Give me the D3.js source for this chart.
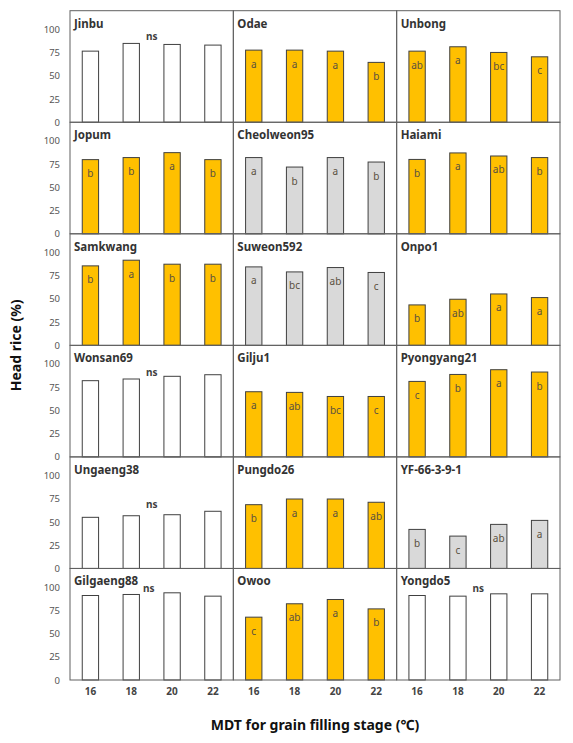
<!DOCTYPE html>
<html><head><meta charset="utf-8">
<script src="https://cdn.jsdelivr.net/npm/d3@7"></script>
<style>body{margin:0;background:#fff}svg{display:block}</style>
</head><body>
<svg id="c" width="573" height="743"></svg>
<script>
const cultivars = ["Jinbu","Odae","Unbong","Jopum","Cheolweon95","Haiami","Samkwang","Suweon592","Onpo1",
  "Wonsan69","Gilju1","Pyongyang21","Ungaeng38","Pungdo26","YF-66-3-9-1","Gilgaeng88","Owoo","Yongdo5"];
const temps = [16, 18, 20, 22];
const headRice = [
  [76.5, 84.8, 83.7, 83.0], [77.6, 77.6, 76.5, 64.4], [76.5, 81.2, 75.1, 70.4],
  [79.8, 82.0, 87.3, 79.8], [82.0, 71.8, 82.0, 77.2], [80.0, 87.0, 83.7, 82.0],
  [85.5, 91.6, 87.3, 87.3], [84.4, 79.0, 83.7, 78.4], [43.5, 49.6, 55.3, 51.4],
  [82.0, 83.8, 86.7, 88.4], [70.1, 69.4, 65.0, 65.0], [81.2, 88.7, 93.8, 91.3],
  [55.0, 56.7, 57.8, 61.5], [68.6, 74.7, 74.7, 71.2], [42.0, 34.8, 47.4, 51.7],
  [90.9, 92.0, 93.8, 90.2], [67.6, 82.0, 86.6, 76.5], [90.9, 90.2, 92.7, 92.7]
];
const letters = [
  null, ["a","a","a","b"], ["ab","a","bc","c"],
  ["b","b","a","b"], ["a","b","a","b"], ["b","a","ab","b"],
  ["b","a","b","b"], ["a","bc","ab","c"], ["b","ab","a","a"],
  null, ["a","ab","bc","c"], ["c","b","a","b"],
  null, ["b","a","a","ab"], ["b","c","ab","a"],
  null, ["c","ab","a","b"], null
];
const groups = ["ns","sig","sig","sig","gray","sig","sig","gray","sig","ns","sig","sig","ns","sig","gray","ns","sig","ns"];
const nsLevel = [92.7, null, null, null, null, null, null, null, null, 90.6, null, null, 69.3, null, null, 98.9, null, 98.9];
const yTicks = [0, 25, 50, 75, 100];

const fills = {ns: "#ffffff", sig: "#ffc000", gray: "#d9d9d9"};
const svg = d3.select("#c");
const gLeft = 70, gTop = 10.7, gridW = 490, gridH = 669.3;
const nCols = 3, nRows = 6;
const pw = gridW / nCols, ph = gridH / nRows;
const font = "'Noto Sans', 'Open Sans', sans-serif";

cultivars.forEach((name, i) => {
  const col = i % nCols, row = Math.floor(i / nCols);
  const x0 = gLeft + col * pw, y0 = gTop + row * ph;
  const g = svg.append("g");
  const x = d3.scaleBand().domain(temps).range([x0, x0 + pw]).paddingInner(0.6).paddingOuter(0.3);
  const y = d3.scaleLinear().domain([0, 120]).range([y0 + ph, y0]);
  const vals = headRice[i];

  g.selectAll("rect.bar").data(vals).join("rect")
    .attr("x", (d, k) => x(temps[k]))
    .attr("y", d => y(d))
    .attr("width", x.bandwidth())
    .attr("height", d => y(0) - y(d))
    .attr("fill", fills[groups[i]])
    .attr("stroke", "#404040").attr("stroke-width", 1);

  if (letters[i]) {
    g.selectAll("text.lt").data(vals).join("text")
      .attr("x", (d, k) => x(temps[k]) + x.bandwidth() / 2)
      .attr("y", d => y(d) + 17.5)
      .attr("text-anchor", "middle")
      .attr("font-family", font).attr("font-size", 10)
      .attr("fill", "#5a5040")
      .text((d, k) => letters[i][k]);
  }
  if (nsLevel[i] != null) {
    g.append("text").attr("x", x0 + pw / 2 - (col === 0 && row === 5 ? 3 : 0)).attr("y", y(nsLevel[i]) + 3.5)
      .attr("text-anchor", "middle").attr("font-family", font).attr("font-size", 10)
      .attr("font-weight", "bold").attr("fill", "#404040").text("ns");
  }

  g.append("rect").attr("x", x0).attr("y", y0).attr("width", pw).attr("height", ph)
    .attr("fill", "none").attr("stroke", "#606060").attr("stroke-width", 1);

  g.append("text").attr("x", x0 + 4).attr("y", y0 + 17)
    .attr("font-family", font).attr("font-size", 11.5).attr("font-weight", "bold")
    .attr("fill", "#333").text(name);

  if (col === 0) {
    const ax = g.append("g").attr("transform", `translate(${x0},0)`)
      .call(d3.axisLeft(y).tickValues(yTicks).tickSize(0).tickPadding(10));
    ax.select(".domain").remove();
    ax.selectAll("text").attr("font-family", font).attr("font-size", 9.5).attr("fill", "#555");
  }
  if (row === nRows - 1) {
    const ax = g.append("g").attr("transform", `translate(0,${y0 + ph})`)
      .call(d3.axisBottom(x).tickSize(0).tickPadding(8));
    ax.select(".domain").remove();
    ax.selectAll("text").attr("font-family", font).attr("font-size", 10).attr("font-weight", "bold").attr("fill", "#444");
  }
});

svg.append("text").attr("transform", `translate(21,${gTop + gridH / 2}) rotate(-90)`)
  .attr("text-anchor", "middle").attr("font-family", font).attr("font-size", 14)
  .attr("font-weight", "bold").attr("fill", "#111").text("Head rice (%)");
svg.append("text").attr("x", gLeft + gridW / 2).attr("y", 730)
  .attr("text-anchor", "middle").attr("font-family", font).attr("font-size", 14)
  .attr("font-weight", "bold").attr("fill", "#111").text("MDT for grain filling stage (℃)");
</script>
</body></html>
